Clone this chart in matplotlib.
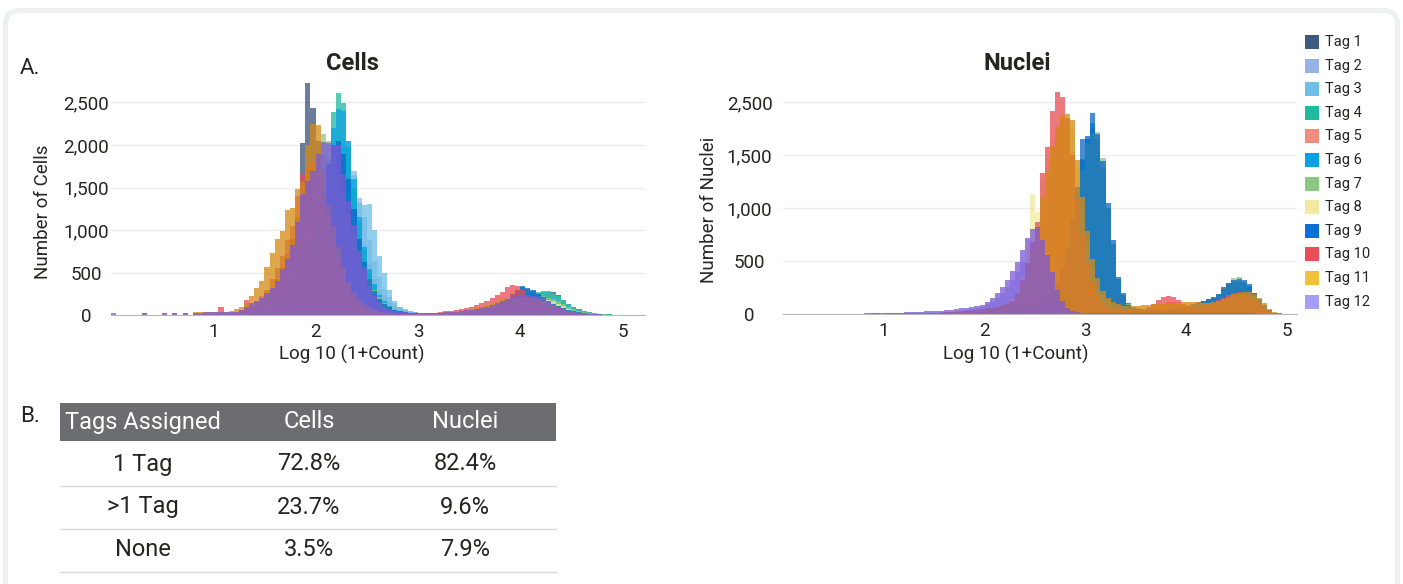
import numpy as np
import matplotlib.pyplot as plt
from matplotlib.patches import FancyBboxPatch, Rectangle

plt.rcParams['font.family'] = ['Roboto', 'DejaVu Sans']
TXT = '#252423'

tag_names = ['Tag 1', 'Tag 2', 'Tag 3', 'Tag 4', 'Tag 5', 'Tag 6',
             'Tag 7', 'Tag 8', 'Tag 9', 'Tag 10', 'Tag 11', 'Tag 12']
tag_colors = ['#3f5a80', '#97b3e6', '#6cc0e8', '#1fb99b', '#f08c7e', '#08a2e2',
              '#8cc784', '#f1e9a2', '#0b6fd6', '#e84c56', '#f0c13c', '#a59df7']
# overlapping fills read darker than the legend swatches for the top layers
fill_colors = ['#3a5279', '#97b3e6', '#6cc0e8', '#1fb99b', '#f08c7e', '#08a2e2',
               '#8cc784', '#f1e9a2', '#0a66c6', '#e84c56', '#d48a14', '#7c58d8']

bin_width = 0.05   # log10 bins, counts listed from x = 0
fill_alpha = 0.75

# ---- Cells: counts per bin (10 bins = 0.5 log units per row) ----
cells_t1 = [0, 0, 0, 0, 0, 0, 0, 0, 0, 0,
            0, 0, 0, 0, 0, 0, 5, 5, 6, 6,
            8, 9, 11, 14, 20, 30, 45, 70, 100, 150,
            220, 310, 420, 560, 720, 900, 1150, 2020, 2730, 2430,
            2050, 1900, 1820, 1760, 1700, 1620, 1450, 1250, 1050, 820,
            600, 420, 300, 210, 150, 105, 75, 55, 40, 30,
            22, 18, 15, 14, 14, 15, 17, 20, 24, 30,
            36, 44, 54, 66, 80, 96, 115, 135, 155, 175,
            195, 215, 235, 250, 262, 268, 275, 240, 180, 130,
            90, 65, 45, 30, 21, 15, 10, 7, 5, 3,
            2, 2, 1, 1]
cells_t2 = [0, 0, 0, 0, 0, 0, 0, 0, 0, 0,
            0, 0, 0, 0, 0, 0, 0, 0, 3, 3,
            5, 6, 8, 10, 14, 20, 28, 40, 55, 75,
            100, 135, 180, 240, 320, 420, 540, 680, 840, 1020,
            1220, 1420, 1580, 1700, 1850, 1950, 2050, 1690, 1380, 1150,
            880, 640, 450, 310, 210, 145, 100, 70, 50, 35,
            25, 18, 14, 12, 12, 13, 15, 18, 22, 27,
            33, 40, 48, 58, 70, 84, 100, 118, 138, 160,
            185, 210, 235, 255, 265, 262, 245, 210, 165, 120,
            85, 60, 42, 30, 20, 14, 10, 6, 4, 3]
cells_t3 = [0, 0, 0, 0, 0, 0, 0, 0, 0, 0,
            0, 0, 0, 0, 0, 0, 0, 0, 3, 3,
            4, 5, 6, 8, 10, 14, 20, 28, 38, 52,
            70, 95, 130, 175, 235, 310, 410, 540, 700, 880,
            1080, 1300, 1520, 1720, 1880, 1980, 1960, 1650, 1320, 1290,
            1310, 1000, 690, 495, 300, 160, 100, 63, 45, 35,
            28, 22, 18, 16, 16, 17, 19, 22, 26, 31,
            37, 44, 52, 62, 74, 88, 104, 122, 145, 172,
            200, 228, 250, 262, 270, 268, 252, 218, 172, 128,
            90, 64, 45, 32, 22, 15, 10, 7, 5, 3,
            3, 2, 2, 1, 1]
cells_t4 = [0, 0, 0, 0, 0, 0, 0, 0, 0, 0,
            0, 0, 0, 0, 0, 0, 0, 0, 0, 0,
            3, 4, 5, 7, 10, 14, 20, 28, 40, 55,
            75, 100, 135, 180, 240, 320, 420, 550, 720, 930,
            1180, 1500, 1850, 2390, 2606, 2492, 1980, 1500, 1080, 760,
            520, 350, 230, 150, 100, 70, 50, 35, 25, 18,
            14, 12, 11, 11, 12, 14, 16, 19, 23, 28,
            34, 41, 50, 60, 72, 86, 102, 122, 145, 170,
            198, 228, 255, 272, 280, 280, 262, 225, 180, 135,
            95, 68, 48, 34, 24, 17, 12, 8, 5, 3,
            3, 2, 2, 1, 1]
cells_t5 = [0, 0, 0, 0, 0, 0, 0, 0, 0, 0,
            0, 0, 0, 0, 0, 0, 0, 0, 0, 0,
            5, 6, 8, 10, 15, 22, 32, 46, 65, 90,
            125, 170, 230, 300, 390, 500, 640, 800, 1000, 1250,
            1400, 1350, 1200, 1000, 800, 600, 440, 310, 215, 150,
            105, 75, 52, 38, 28, 20, 15, 12, 10, 8,
            8, 8, 9, 10, 12, 14, 17, 21, 26, 32,
            40, 50, 62, 76, 92, 110, 130, 155, 190, 230,
            265, 275, 258, 228, 192, 158, 124, 94, 70, 50,
            35, 25, 17, 12, 8, 6, 4, 3, 2, 1]
cells_t6 = [0, 0, 0, 0, 0, 0, 0, 0, 0, 0,
            0, 0, 0, 0, 0, 0, 0, 0, 0, 0,
            3, 4, 5, 7, 9, 13, 18, 26, 36, 50,
            68, 92, 125, 170, 230, 305, 400, 520, 680, 880,
            1120, 1420, 1800, 2200, 2420, 2400, 2050, 1600, 1150, 800,
            540, 360, 240, 160, 110, 75, 52, 37, 27, 20,
            15, 13, 12, 12, 13, 15, 18, 22, 27, 33,
            40, 49, 60, 74, 92, 115, 145, 185, 235, 290,
            330, 310, 280, 250, 220, 188, 155, 122, 93, 68,
            50, 36, 26, 18, 12, 8, 5, 3, 2, 1]
cells_t7 = [0, 0, 0, 0, 0, 0, 0, 0, 0, 0,
            0, 0, 0, 0, 0, 0, 0, 0, 0, 0,
            3, 4, 5, 7, 10, 14, 20, 28, 40, 55,
            75, 100, 135, 180, 240, 320, 420, 560, 740, 960,
            1700, 2130, 2050, 1900, 1650, 1400, 1180, 980, 770, 575,
            420, 300, 210, 145, 100, 70, 50, 35, 25, 20,
            18, 14, 12, 11, 12, 13, 15, 18, 22, 27,
            33, 40, 48, 58, 70, 84, 100, 118, 138, 160,
            185, 205, 218, 222, 218, 205, 185, 160, 130, 100,
            72, 52, 37, 26, 18, 12, 8, 5, 3, 2]
cells_t8 = [0, 0, 0, 0, 0, 0, 0, 0, 0, 0,
            0, 0, 0, 0, 0, 0, 0, 0, 0, 0,
            4, 5, 7, 9, 13, 18, 26, 37, 52, 72,
            100, 135, 180, 240, 320, 420, 560, 760, 950, 1200,
            1350, 1300, 1150, 950, 750, 560, 400, 290, 200, 140,
            100, 70, 50, 36, 27, 20, 15, 12, 10, 8,
            8, 8, 9, 10, 12, 14, 17, 20, 25, 30,
            37, 45, 55, 67, 80, 96, 114, 133, 152, 170,
            186, 198, 205, 205, 198, 182, 160, 132, 102, 75,
            52, 35, 23, 15, 10, 6, 4, 3, 2, 1]
cells_t9 = [0, 0, 0, 0, 0, 0, 0, 0, 0, 0,
            0, 0, 0, 0, 0, 0, 0, 0, 0, 0,
            3, 4, 5, 7, 9, 12, 17, 24, 34, 48,
            66, 90, 122, 165, 222, 300, 400, 530, 700, 900,
            1150, 1450, 1780, 2000, 2050, 1900, 1600, 1250, 900, 620,
            420, 280, 190, 130, 90, 62, 44, 32, 24, 18,
            14, 12, 11, 11, 12, 14, 17, 21, 26, 32,
            40, 50, 62, 77, 95, 118, 148, 190, 245, 300,
            338, 320, 290, 250, 210, 170, 135, 105, 80, 60,
            44, 32, 23, 16, 11, 7, 5, 3, 2, 1]
cells_t10 = [0, 0, 0, 0, 0, 0, 0, 0, 0, 0,
             0, 0, 0, 0, 0, 0, 6, 6, 8, 8,
             10, 90, 15, 20, 35, 60, 180, 120, 160, 220,
             300, 420, 550, 700, 880, 1050, 1400, 1660, 1750, 1800,
             1650, 1400, 1150, 900, 650, 450, 310, 210, 140, 95,
             65, 45, 32, 24, 19, 16, 14, 13, 13, 13,
             14, 16, 20, 26, 34, 42, 52, 62, 74, 88,
             100, 118, 140, 165, 195, 230, 275, 330, 352, 345,
             290, 230, 175, 130, 95, 68, 48, 33, 22, 15,
             10, 7, 5, 3, 2, 1, 1]
cells_t11 = [0, 0, 0, 0, 0, 0, 25, 0, 0, 0,
             20, 0, 25, 0, 25, 0, 30, 30, 35, 35,
             35, 35, 40, 50, 65, 100, 140, 220, 320, 400,
             560, 730, 900, 990, 1230, 1260, 1480, 1560, 2000, 2250,
             2230, 1700, 1300, 1050, 800, 560, 380, 255, 170, 115,
             80, 56, 40, 30, 24, 20, 17, 15, 14, 14,
             14, 15, 16, 18, 21, 25, 30, 36, 44, 54,
             66, 80, 96, 114, 134, 155, 175, 192, 205, 212,
             214, 210, 200, 185, 165, 140, 112, 85, 62, 44,
             30, 20, 13, 8, 5, 3, 2, 1, 1]
cells_t12 = [25, 0, 0, 0, 0, 0, 20, 0, 0, 0,
             25, 0, 25, 0, 25, 0, 25, 25, 30, 30,
             30, 30, 30, 40, 40, 60, 90, 144, 170, 200,
             260, 320, 400, 540, 660, 820, 1100, 1420, 1580, 1700,
             1900, 2040, 2020, 2000, 2000, 1660, 1340, 1060, 740, 540,
             340, 220, 150, 100, 70, 50, 38, 30, 25, 22,
             20, 20, 22, 25, 28, 32, 36, 40, 46, 54,
             62, 72, 85, 100, 118, 138, 160, 185, 210, 232,
             240, 240, 228, 208, 180, 150, 120, 90, 65, 45,
             30, 20, 14, 10, 8, 6, 4, 3, 2, 1,
             1, 1]

# ---- Nuclei: counts per bin ----
nuclei_t1 = [0, 0, 0, 0, 0, 0, 0, 0, 0, 0,
             0, 0, 0, 0, 0, 0, 0, 0, 0, 0,
             0, 0, 0, 3, 3, 4, 4, 5, 6, 7,
             8, 9, 10, 11, 12, 12, 13, 13, 14, 14,
             15, 18, 22, 26, 30, 36, 44, 54, 66, 82,
             105, 135, 175, 230, 300, 420, 620, 880, 1150, 1450,
             1650, 1750, 1650, 1380, 980, 620, 330, 180, 100, 70,
             55, 48, 44, 42, 42, 44, 48, 54, 62, 72,
             82, 95, 110, 125, 140, 160, 190, 250, 280, 300,
             310, 290, 250, 190, 120, 65, 25, 10, 4, 2]
nuclei_t2 = [0, 0, 0, 0, 0, 0, 0, 0, 0, 0,
             0, 0, 0, 0, 0, 0, 4, 0, 0, 0,
             0, 4, 0, 5, 5, 6, 7, 8, 10, 12,
             14, 16, 19, 22, 26, 30, 36, 44, 54, 66,
             90, 115, 150, 195, 250, 320, 400, 490, 590, 700,
             790, 800, 640, 460, 290, 160, 90, 50, 30, 18,
             12, 9, 8, 7, 6, 6, 6, 6, 6, 6,
             6, 6, 6, 6, 6, 6, 6, 6, 6, 6,
             6, 6, 6, 6, 6, 6, 6, 6, 6, 6,
             6, 6, 6, 5, 4, 3, 2, 1]
nuclei_t3 = [0, 0, 0, 0, 0, 0, 0, 0, 0, 0,
             0, 0, 0, 0, 0, 0, 0, 0, 0, 0,
             0, 0, 0, 2, 3, 3, 4, 4, 5, 6,
             4, 4, 5, 5, 6, 7, 8, 9, 10, 12,
             14, 17, 20, 24, 28, 34, 42, 52, 64, 80,
             100, 130, 170, 220, 280, 400, 590, 840, 1100, 1400,
             1600, 1650, 1500, 1200, 850, 520, 280, 150, 90, 65,
             50, 44, 40, 38, 38, 40, 44, 50, 58, 68,
             78, 90, 104, 118, 132, 150, 175, 220, 255, 280,
             290, 275, 240, 180, 115, 62, 24, 9, 3, 1]
nuclei_t4 = [0, 0, 0, 0, 0, 0, 0, 0, 0, 0,
             0, 0, 0, 0, 0, 0, 0, 0, 0, 0,
             0, 0, 0, 0, 2, 2, 3, 3, 4, 4,
             4, 5, 5, 6, 7, 8, 9, 10, 11, 13,
             15, 18, 21, 25, 29, 35, 43, 53, 65, 82,
             102, 132, 172, 225, 290, 410, 600, 860, 1130, 1420,
             1620, 1700, 1560, 1250, 880, 540, 290, 160, 95, 68,
             52, 45, 41, 39, 39, 41, 45, 51, 59, 69,
             80, 92, 106, 120, 136, 155, 182, 228, 262, 288,
             298, 282, 246, 186, 118, 64, 25, 9, 3, 1]
nuclei_t5 = [0, 0, 0, 0, 0, 0, 0, 0, 0, 0,
             0, 0, 0, 0, 0, 0, 0, 0, 0, 0,
             0, 0, 0, 3, 3, 4, 4, 5, 6, 7,
             8, 9, 10, 12, 14, 16, 19, 22, 26, 31,
             37, 44, 52, 62, 75, 92, 115, 160, 260, 400,
             600, 850, 1150, 1450, 1700, 1850, 1780, 1550, 1200, 850,
             560, 360, 220, 140, 90, 60, 45, 36, 32, 32,
             34, 38, 45, 58, 75, 95, 110, 112, 100, 85,
             75, 70, 70, 74, 82, 95, 112, 132, 152, 170,
             180, 178, 160, 125, 85, 48, 20, 7, 2, 1]
nuclei_t6 = [0, 0, 0, 0, 0, 0, 0, 0, 0, 0,
             0, 0, 0, 0, 0, 0, 0, 0, 0, 0,
             0, 0, 0, 0, 2, 2, 3, 3, 4, 4,
             4, 5, 5, 6, 7, 8, 9, 10, 11, 13,
             15, 18, 21, 25, 29, 35, 43, 53, 65, 82,
             104, 134, 175, 228, 295, 420, 610, 880, 1160, 1460,
             1650, 1800, 1650, 1350, 1000, 660, 330, 180, 100, 70,
             54, 46, 42, 40, 40, 42, 46, 52, 60, 70,
             80, 92, 106, 120, 138, 158, 186, 232, 268, 300,
             315, 300, 262, 200, 130, 72, 28, 10, 3, 1]
nuclei_t7 = [0, 0, 0, 0, 0, 0, 0, 0, 0, 0,
             0, 0, 0, 0, 0, 0, 0, 0, 0, 0,
             0, 0, 0, 0, 2, 2, 3, 3, 4, 4,
             4, 5, 5, 6, 7, 8, 9, 10, 11, 13,
             15, 18, 21, 25, 29, 35, 43, 53, 65, 82,
             100, 128, 165, 215, 280, 340, 420, 680, 1000, 1350,
             1600, 1700, 1720, 1470, 1000, 640, 330, 180, 94, 69,
             54, 46, 42, 40, 40, 42, 46, 52, 60, 70,
             80, 92, 106, 122, 140, 150, 190, 230, 290, 340,
             345, 300, 240, 170, 110, 60, 25, 8, 3, 1]
nuclei_t8 = [0, 0, 0, 0, 0, 0, 0, 0, 0, 0,
             0, 0, 0, 0, 0, 0, 0, 0, 0, 4,
             0, 5, 0, 5, 0, 6, 6, 7, 8, 9,
             10, 12, 14, 16, 18, 21, 24, 28, 33, 40,
             48, 58, 70, 85, 105, 140, 200, 350, 700, 1135,
             960, 1250, 1480, 1650, 1780, 1840, 1830, 1750, 1400, 1000,
             680, 440, 280, 180, 120, 85, 65, 55, 50, 48,
             48, 50, 55, 62, 72, 85, 98, 108, 112, 112,
             110, 108, 106, 104, 104, 108, 118, 132, 148, 165,
             178, 186, 182, 160, 120, 75, 35, 12, 4, 1]
nuclei_t9 = [0, 0, 0, 0, 0, 0, 0, 0, 0, 0,
             0, 0, 0, 0, 0, 0, 0, 5, 0, 0,
             0, 0, 4, 0, 3, 3, 4, 4, 5, 5,
             6, 6, 7, 8, 9, 10, 11, 12, 14, 16,
             18, 21, 24, 28, 33, 39, 47, 57, 70, 88,
             110, 140, 180, 235, 300, 430, 620, 900, 1200, 1650,
             1680, 1900, 1700, 1440, 1044, 698, 346, 195, 85, 60,
             48, 42, 40, 38, 38, 40, 44, 50, 58, 68,
             80, 92, 106, 120, 138, 150, 190, 240, 290, 320,
             330, 320, 280, 200, 140, 85, 35, 12, 5, 2]
nuclei_t10 = [0, 0, 0, 0, 0, 0, 0, 0, 0, 0,
              0, 0, 0, 0, 0, 4, 0, 0, 5, 0,
              0, 5, 0, 6, 6, 7, 7, 8, 9, 10,
              10, 12, 14, 16, 18, 22, 26, 30, 36, 42,
              50, 58, 68, 80, 98, 120, 200, 320, 480, 680,
              870, 1330, 1575, 1910, 2090, 2050, 1850, 1500, 1100, 750,
              480, 300, 180, 110, 70, 50, 40, 35, 35, 38,
              42, 50, 66, 90, 130, 160, 168, 160, 130, 95,
              75, 70, 72, 80, 92, 108, 130, 155, 180, 200,
              210, 200, 175, 135, 90, 50, 20, 6, 2]
nuclei_t11 = [0, 0, 0, 0, 0, 0, 0, 0, 0, 0,
              0, 0, 0, 0, 0, 0, 0, 0, 5, 0,
              6, 0, 6, 0, 7, 7, 8, 9, 10, 11,
              12, 14, 16, 18, 20, 24, 28, 32, 38, 44,
              52, 60, 70, 82, 100, 125, 180, 280, 420, 600,
              820, 1100, 1350, 1580, 1760, 1870, 1890, 1830, 1450, 1100,
              780, 520, 340, 220, 150, 110, 90, 80, 75, 75,
              78, 82, 86, 90, 94, 98, 100, 100, 100, 112,
              115, 115, 112, 108, 105, 110, 125, 145, 165, 185,
              200, 210, 208, 190, 150, 100, 50, 18, 6, 2]
nuclei_t12 = [0, 0, 0, 0, 0, 0, 3, 0, 0, 0,
              0, 0, 4, 0, 0, 4, 5, 0, 5, 5,
              10, 11, 12, 14, 15, 17, 19, 22, 25, 28,
              30, 33, 37, 41, 46, 52, 58, 66, 75, 88,
              116, 150, 200, 250, 320, 410, 490, 600, 720, 800,
              820, 700, 560, 400, 230, 120, 60, 30, 18, 12,
              9, 8, 7, 6, 6, 6, 6, 6, 6, 6,
              6, 6, 6, 6, 6, 6, 6, 6, 6, 6,
              6, 6, 6, 6, 6, 6, 6, 6, 6, 6,
              6, 6, 6, 5, 4, 3, 2, 1]

cells_series = [cells_t1, cells_t2, cells_t3, cells_t4, cells_t5, cells_t6,
                cells_t7, cells_t8, cells_t9, cells_t10, cells_t11, cells_t12]
nuclei_series = [nuclei_t1, nuclei_t2, nuclei_t3, nuclei_t4, nuclei_t5, nuclei_t6,
                 nuclei_t7, nuclei_t8, nuclei_t9, nuclei_t10, nuclei_t11, nuclei_t12]

# summary table
table_header = ['Tags Assigned', 'Cells', 'Nuclei']
table_rows = ['1 Tag', '>1 Tag', 'None']
table_cells = ['72.8%', '23.7%', '3.5%']
table_nuclei = ['82.4%', '9.6%', '7.9%']

W, H = 1403, 584
fig = plt.figure(figsize=(W / 100, H / 100), dpi=100)


def px_box(x0, y0, x1, y1):
    return [x0 / W, 1 - y1 / H, (x1 - x0) / W, (y1 - y0) / H]


def draw_hist(ax, series, n_bins, xmax, ymax, yticks, ylabels):
    edges = np.arange(n_bins + 1) * bin_width
    for counts, color in zip(series, fill_colors):
        vals = np.zeros(n_bins)
        vals[:len(counts)] = counts
        ax.stairs(vals, edges, fill=True, color=color, alpha=fill_alpha, lw=0, zorder=2)
    ax.set_xlim(0, xmax)
    ax.set_ylim(0, ymax)
    ax.set_facecolor('none')
    ax.set_xticks([1, 2, 3, 4, 5])
    ax.set_yticks(yticks)
    ax.set_yticklabels(ylabels, ha='center')
    ax.grid(axis='y', color='#ececec', lw=1, zorder=0)
    ax.set_axisbelow(True)
    for s in ['top', 'right', 'left']:
        ax.spines[s].set_visible(False)
    ax.spines['bottom'].set_color('#b8b8b8')
    ax.spines['bottom'].set_zorder(3)
    ax.tick_params(axis='both', length=0, labelsize=13.5, colors=TXT)
    ax.tick_params(axis='x', pad=6)


ax_c = fig.add_axes(px_box(111, 77, 645, 315))
draw_hist(ax_c, cells_series, 105, 5.22, 2800,
          [0, 500, 1000, 1500, 2000, 2500],
          ['0', '500', '1,000', '1,500', '2,000', '2,500'])
ax_c.tick_params(axis='y', pad=18)

ax_n = fig.add_axes(px_box(783, 86, 1297, 314))
draw_hist(ax_n, nuclei_series, 102, 5.1, 2150,
          [0, 500, 1000, 1500, 2000],
          ['0', '500', '1,000', '1,500', '2,500'])
ax_n.tick_params(axis='y', pad=24)

fig.text(352 / W, 1 - 63 / H, 'Cells', ha='center', va='center',
         fontsize=17, fontweight='bold', color=TXT)
fig.text(1017 / W, 1 - 63 / H, 'Nuclei', ha='center', va='center',
         fontsize=17, fontweight='bold', color=TXT)
fig.text(43 / W, 1 - 212 / H, 'Number of Cells', rotation=90,
         ha='center', va='center', fontsize=13.5, color=TXT)
fig.text(709 / W, 1 - 210 / H, 'Number of Nuclei', rotation=90,
         ha='center', va='center', fontsize=13.5, color=TXT)
fig.text(352 / W, 1 - 354 / H, 'Log 10 (1+Count)', ha='center', va='center',
         fontsize=13.5, color=TXT)
fig.text(1016 / W, 1 - 354 / H, 'Log 10 (1+Count)', ha='center', va='center',
         fontsize=13.5, color=TXT)

# background frame, panel letters, legend and table in pixel coordinates
bg = fig.add_axes([0, 0, 1, 1], zorder=-1)
bg.set_xlim(0, W)
bg.set_ylim(H, 0)
bg.axis('off')
bg.add_patch(FancyBboxPatch((5.5, 10.5), W - 11, H + 40,
                            boxstyle='round,pad=0,rounding_size=14',
                            fc='white', ec='#eef0f1', lw=3.8))
bg.text(20, 68, 'A.', fontsize=16, color=TXT, va='center')
bg.text(20, 416, 'B.', fontsize=16, color=TXT, va='center')

for i, (name, color) in enumerate(zip(tag_names, tag_colors)):
    y = 42 + i * 23.6
    bg.add_patch(Rectangle((1305, y - 7), 14, 14, fc=color, ec='none'))
    bg.text(1325, y, name, fontsize=10.5, color=TXT, va='center')

col_x = [143, 309, 465]
bg.add_patch(Rectangle((60, 403), 496, 38, fc='#6b6d71', ec='none'))
for x, label in zip(col_x, table_header):
    bg.text(x, 422, label, ha='center', va='center', fontsize=17, color='white')
for i, (r, c, n) in enumerate(zip(table_rows, table_cells, table_nuclei)):
    y = 464 + i * 43
    for x, label in zip(col_x, [r, c, n]):
        bg.text(x, y, label, ha='center', va='center', fontsize=17, color=TXT)
    bg.plot([60, 556], [y + 21.5, y + 21.5], color='#d9d9d9', lw=1)

fig.savefig('out.png', dpi=100)
